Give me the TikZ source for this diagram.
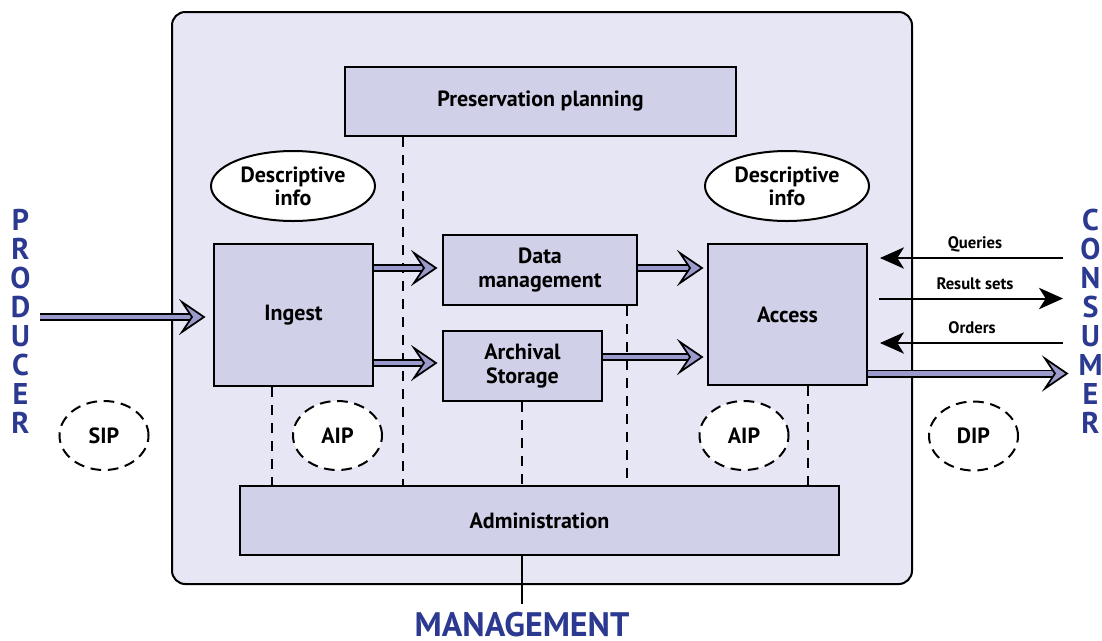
\documentclass[tikz,border=0pt]{standalone}
\usepackage{fontspec}
\setmainfont{PT Sans}
\usetikzlibrary{calc,arrows.meta,shapes.geometric}
\definecolor{outerfill}{HTML}{E6E6F5}
\definecolor{boxfill}{HTML}{D0D0E8}
\definecolor{arrowfill}{HTML}{9A9ACC}
\definecolor{oaisblue}{HTML}{2B3990}
\newcommand\fatarrow[2]{%
  \draw[line width=1.2pt, double=arrowfill, double distance=3.6pt] (#1) -- ($(#2)+(-12,0)$);
  \draw[line width=1.3pt, fill=arrowfill, line join=miter] ($(#2)+(-22,15)$) -- (#2) -- ($(#2)+(-22,-15)$) -- ($(#2)+(-12,0)$) -- cycle;}
\begin{document}
\begin{tikzpicture}[x=0.75pt,y=-0.75pt,
  sz/.style 2 args={minimum width=#1*0.75pt, minimum height=#2*0.75pt},
  box/.style={draw=black, line width=1.5pt, fill=boxfill, inner sep=0pt, align=center,
    font=\bfseries\fontsize{16.5}{17.5}\selectfont},
  outerbox/.style={draw=black, line width=1.5pt, fill=outerfill, rounded corners=10pt, inner sep=0pt},
  infoell/.style={ellipse, draw=black, line width=1.5pt, fill=white, inner sep=0pt, align=center,
    font=\bfseries\fontsize{16.5}{17.5}\selectfont},
  pkg/.style={ellipse, draw=black, line width=1.5pt, dash pattern=on 8pt off 5pt, fill=white, inner sep=0pt,
    font=\bfseries\fontsize{16.5}{17.5}\selectfont},
  dashline/.style={line width=1.5pt, dash pattern=on 7.5pt off 6pt},
  thinarrow/.style={line width=1.5pt, -{Stealth[length=18pt, width=16pt, inset=5pt]}},
  flowlabel/.style={font=\bfseries\fontsize{12.5}{13}\selectfont, inner sep=0pt},
  party/.style={text=oaisblue, font=\bfseries\fontsize{22.5}{21.75}\selectfont, align=center, inner sep=0pt}]
\useasboundingbox (0,0) rectangle (1102,640);

% system boundary
\node[outerbox, sz={740}{572}] (sys) at (542,298) {};

% functional entities
\node[box, sz={391}{69}] (pp) at (540.5,101.5) {Preservation planning};
\node[infoell, sz={164}{70}] (di1) at (293,186) {Descriptive\\info};
\node[infoell, sz={164}{70}] (di2) at (787,186) {Descriptive\\info};
\node[box, sz={159}{142}] (ingest) at (293.5,315) {Ingest};
\node[box, sz={194}{70}] (dm) at (540,270) {Data\\management};
\node[box, sz={159}{70}] (as) at (522.5,366) {Archival\\Storage};
\node[box, sz={159}{141}] (access) at (787.5,314.5) {Access};
\node[box, sz={599}{69}] (admin) at (539.5,520.5) {Administration};

% information packages
\node[pkg, sz={89}{69}] (sip) at (104,435.5) {SIP};
\node[pkg, sz={89}{69}] (aip1) at (337.5,435.5) {AIP};
\node[pkg, sz={89}{69}] (aip2) at (744,435.5) {AIP};
\node[pkg, sz={89}{69}] (dip) at (973.5,436) {DIP};

% parties
\node[party] (producer) at (20.5,321.5) {P\\R\\O\\D\\U\\C\\E\\R};
\node[party] (consumer) at (1090.5,321.5) {C\\O\\N\\S\\U\\M\\E\\R};
\node[party, font=\bfseries\fontsize{25.5}{25.5}\selectfont, text depth=0pt, anchor=base] (mgmt) at (522,636) {MANAGEMENT};

% dashed links to administration
\coordinate (d1) at (403,0);
\coordinate (d2) at (272,0);
\coordinate (d3) at (522,0);
\coordinate (d4) at (627,0);
\coordinate (d5) at (808,0);
\draw[dashline] (pp.south -| d1) -- (admin.north -| d1);
\draw[dashline] (ingest.south -| d2) -- (admin.north -| d2);
\draw[dashline] (as.south -| d3) -- (admin.north -| d3);
\draw[dashline] (dm.south -| d4) -- (admin.north -| d4);
\draw[dashline] (access.south -| d5) -- (admin.north -| d5);
\coordinate (mtop) at (522,604);
\draw[line width=1.5pt] (admin.south -| d3) -- (mtop);

% big flow arrows
\coordinate (prodstart) at (40,317);
\coordinate (pe) at ($(prodstart -| ingest.west)+(-9,0)$);
\fatarrow{prodstart}{pe}
\path (ingest.east) ++(0,-47) coordinate (a1s);
\coordinate (a1e) at ($(dm.west |- a1s)+(-6,0)$);
\fatarrow{a1s}{a1e}
\path (ingest.east) ++(0,48) coordinate (a2s);
\coordinate (a2e) at ($(as.west |- a2s)+(-6,0)$);
\fatarrow{a2s}{a2e}
\coordinate (a3s) at (dm.east |- a1s);
\coordinate (a3e) at ($(access.west |- a1s)+(-5,0)$);
\fatarrow{a3s}{a3e}
\path (as.east) ++(0,-9) coordinate (a4s);
\coordinate (a4e) at ($(access.west |- a4s)+(-5,0)$);
\fatarrow{a4s}{a4e}
\path (access.east) ++(0,59) coordinate (a5s);
\coordinate (a5e) at (1067,373.5);
\fatarrow{a5s}{a5e}

% consumer dialogue
\coordinate (q1) at (1063,258);
\coordinate (q2) at ($(q1 -| access.east)+(12,0)$);
\draw[thinarrow] (q1) -- (q2);
\coordinate (r1) at ($(access.east)+(11,-16)$);
\coordinate (r2) at (r1 -| q1);
\draw[thinarrow] (r1) -- (r2);
\coordinate (o1) at (1063,343);
\coordinate (o2) at ($(o1 -| access.east)+(12,0)$);
\draw[thinarrow] (o1) -- (o2);
\node[flowlabel] (lq) at (975,244) {Queries};
\node[flowlabel] (lr) at (975,284) {Result sets};
\node[flowlabel] (lo) at (972,328) {Orders};
\end{tikzpicture}
\end{document}
